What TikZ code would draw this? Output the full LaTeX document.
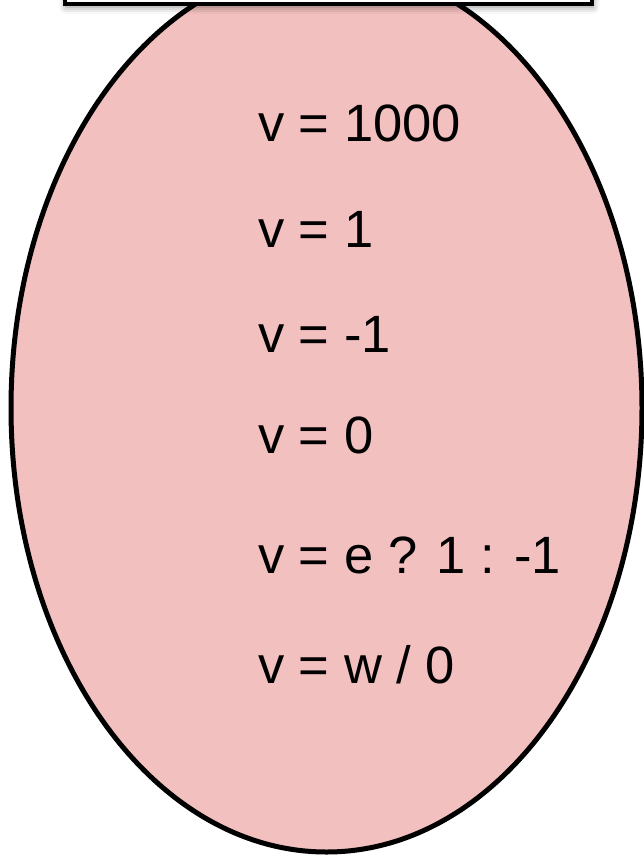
\documentclass[tikz,border=0pt]{standalone}
\usepackage{fontspec}
\setmainfont{Liberation Sans}
\usetikzlibrary{shadows.blur}
\definecolor{blobpink}{RGB}{242,192,190}
\tikzset{
  code/.style={anchor=base west, inner sep=0pt, font=\fontsize{52.5}{60}\selectfont},
  blob/.style={draw=black, line width=5pt, fill=blobpink},
  topbox/.style={draw=black, line width=4pt, fill=white,
    blur shadow={shadow xshift=1pt, shadow yshift=-3pt, shadow blur radius=7pt, shadow opacity=45}}
}
\begin{document}
\begin{tikzpicture}[x=1pt,y=-1pt]
\useasboundingbox (0,0) rectangle (644,856);
\begin{scope}
\clip (0,0) rectangle (644,856);
\draw[blob] (326.5,408) ellipse [x radius=315.5pt, y radius=444pt];
\node[code] (l1) at (258,142) {v = 1000};
\node[code] (l2) at (258,247) {v = 1};
\node[code] (l3) at (258,352) {v = -1};
\node[code] (l4) at (258,453) {v = 0};
\node[code] (l5) at (258,573) {v = e ? 1 : -1};
\node[code] (l6) at (258,683) {v = w / 0};
\draw[topbox] (65,-60) rectangle (592,4);
\end{scope}
\end{tikzpicture}
\end{document}
